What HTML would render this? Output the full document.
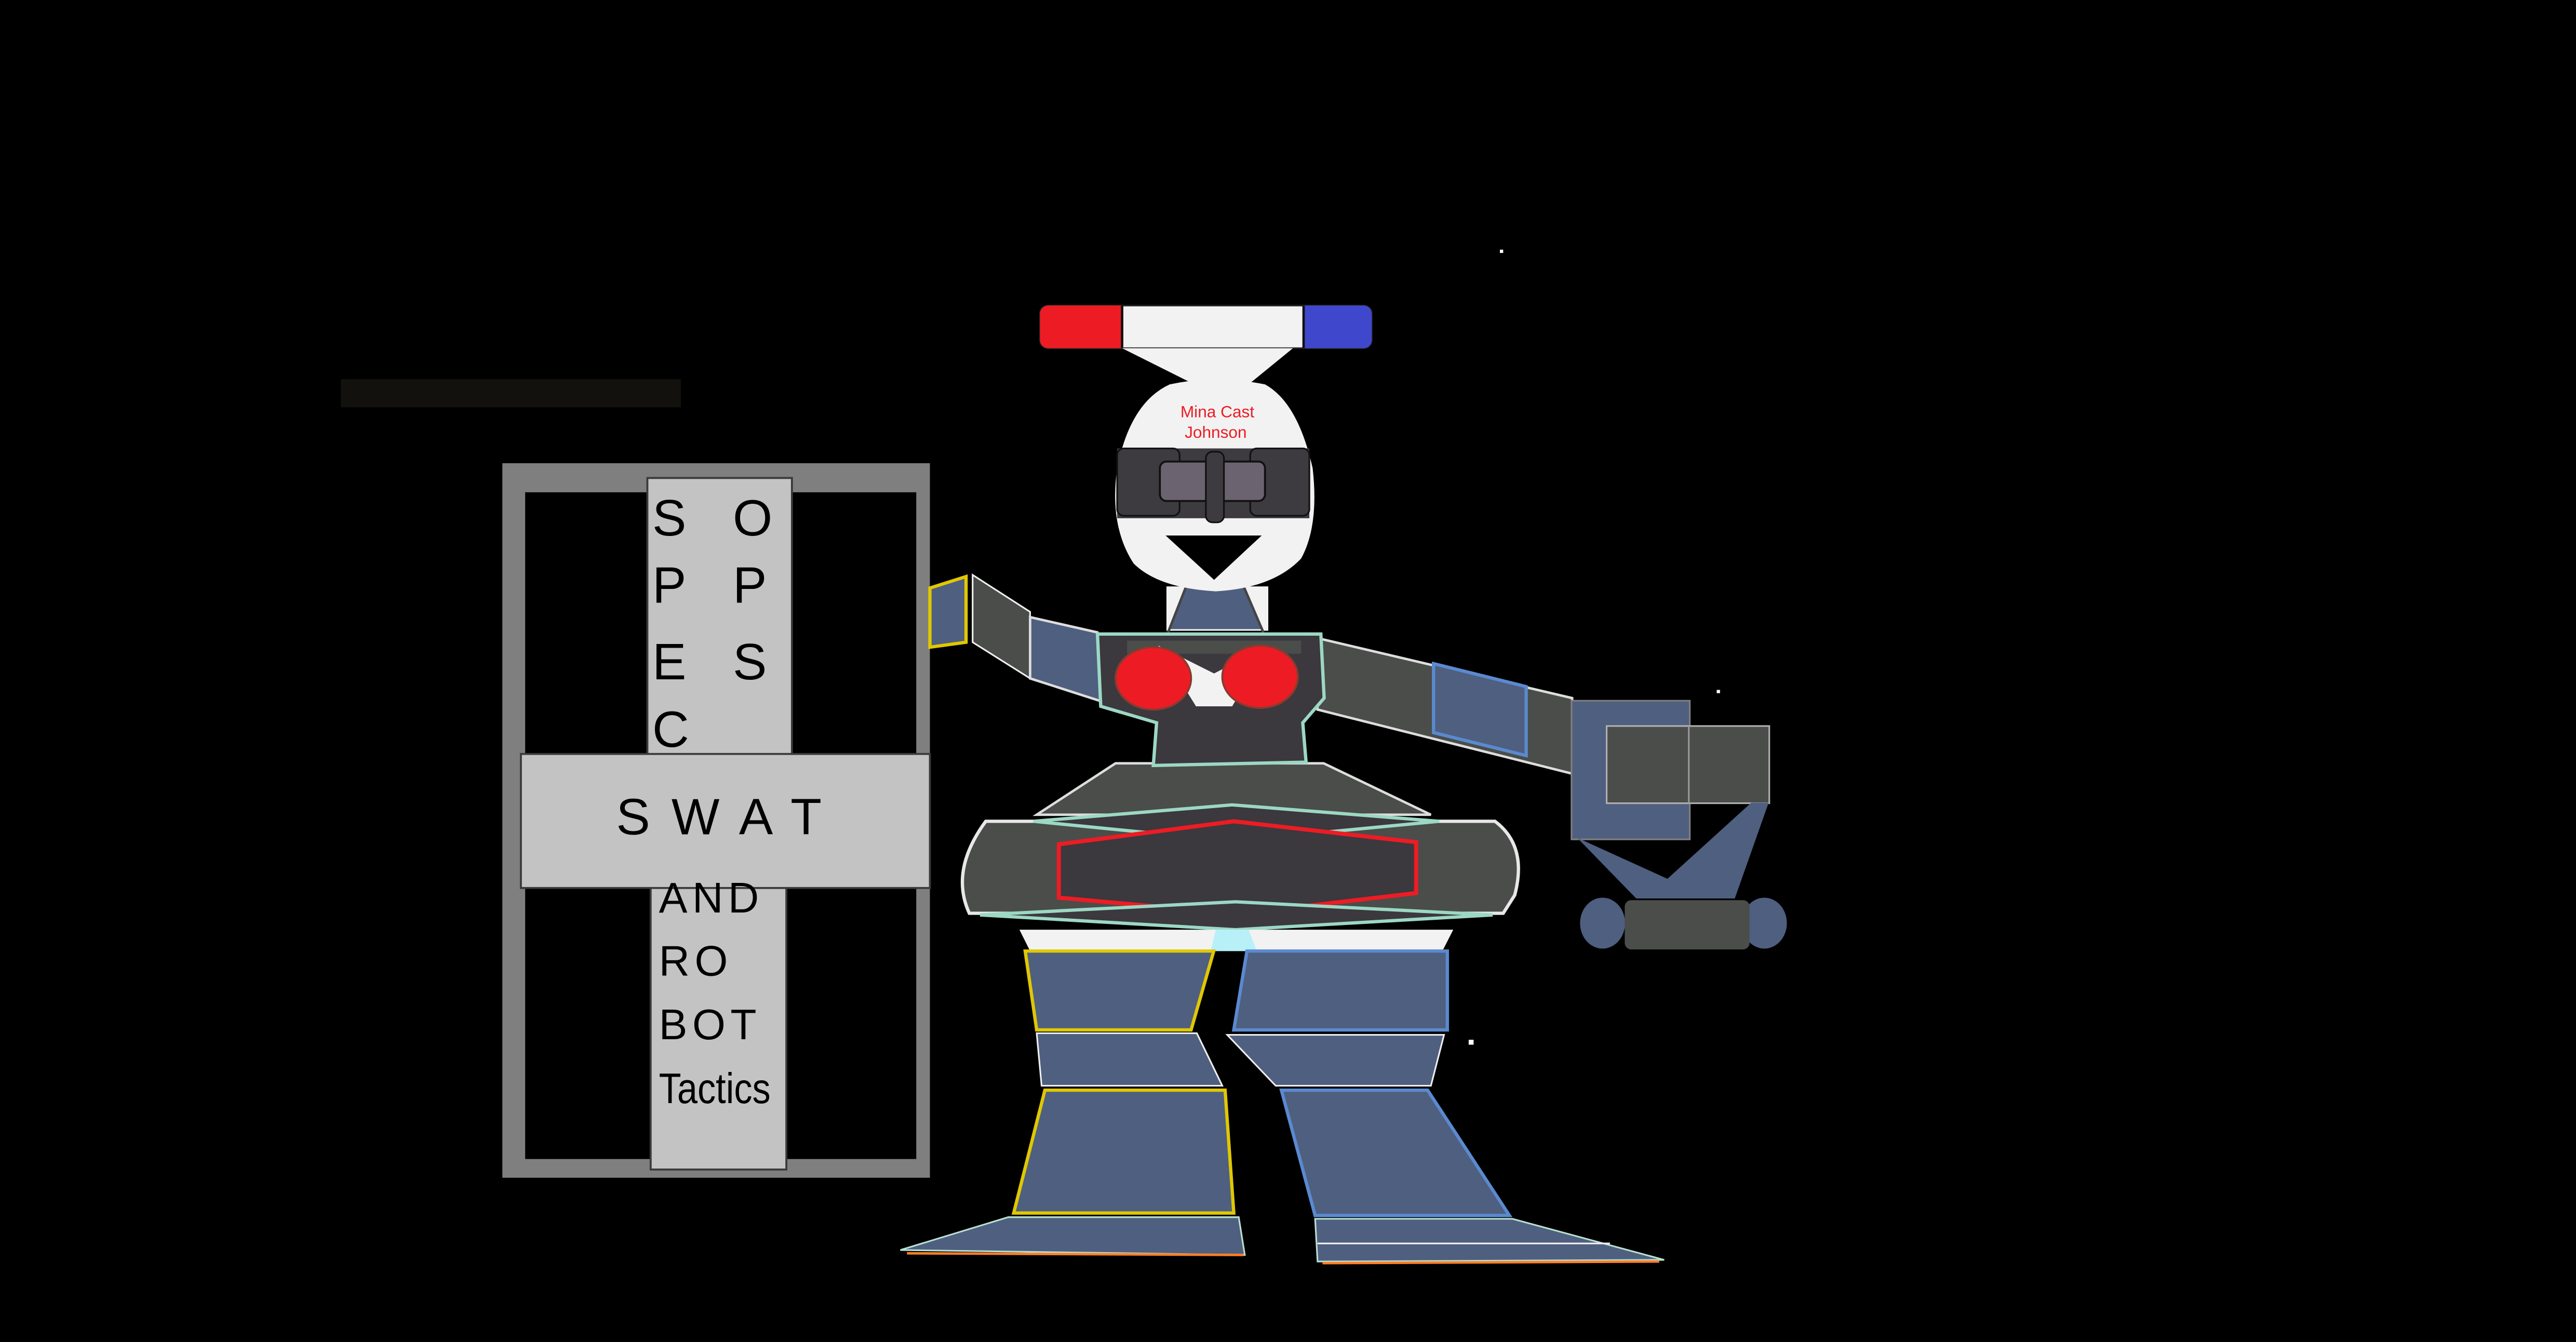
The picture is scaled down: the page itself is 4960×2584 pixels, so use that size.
<!DOCTYPE html>
<html><head><meta charset="utf-8"><style>
html,body{margin:0;padding:0;background:#000;}
svg{display:block;}
</style></head><body>
<svg width="4960" height="2584" viewBox="0 0 1568 817" xmlns="http://www.w3.org/2000/svg">
<rect x="0" y="0" width="1568" height="817" fill="#000"/>
<rect x="207.4" y="230.8" width="207" height="17.2" fill="#12110d"/>
<rect x="913" y="152" width="2" height="2" fill="#fff"/>
<rect x="1045" y="420" width="2" height="2" fill="#fff"/>
<rect x="894" y="633" width="3" height="3" fill="#fff"/>

<!-- sign -->
<rect x="305.7" y="282" width="260.3" height="435" fill="#7f7f7f"/>
<rect x="319.6" y="299.7" width="238.1" height="405.9" fill="#000"/>
<rect x="394" y="291" width="88" height="170" fill="#c3c3c3" stroke="#3a3a3a" stroke-width="1.2"/>
<rect x="396" y="540" width="82.6" height="172" fill="#c3c3c3" stroke="#3a3a3a" stroke-width="1.2"/>
<rect x="317" y="459" width="249" height="81.6" fill="#c3c3c3" stroke="#3a3a3a" stroke-width="1.2"/>
<g font-family="Liberation Sans, sans-serif" font-size="31" fill="#000">
<text x="397" y="326">S</text><text x="446" y="326">O</text>
<text x="397" y="367">P</text><text x="446" y="367">P</text>
<text x="397" y="413.5">E</text><text x="446" y="413.5">S</text>
<text x="397" y="454.6">C</text>
<text x="375" y="508" letter-spacing="13">SWAT</text>
<text x="401" y="555.5" font-size="26" letter-spacing="3">AND</text>
<text x="401" y="594" font-size="26" letter-spacing="3">RO</text>
<text x="401" y="632.6" font-size="26" letter-spacing="3">BOT</text>
<text x="401" y="671.5" font-size="26" textLength="68" lengthAdjust="spacingAndGlyphs">Tactics</text>
</g>

<!-- left arm -->
<polygon points="566,358 588,351 588,391 566,394" fill="#4f5f80" stroke="#e0c800" stroke-width="2"/>
<polygon points="592,350 627,372.5 627,413 592,391" fill="#4a4d4a" stroke="#eee" stroke-width="1"/>
<polygon points="627,375.7 668,385 686,432 627,413" fill="#4f5f80" stroke="#ddd" stroke-width="1.5"/>

<!-- right arm -->
<polygon points="800,388 957,425 957,471 802,432" fill="#4a4d4a" stroke="#ddd" stroke-width="1.5"/>
<polygon points="872.6,404 929,418 929,460 872.6,446" fill="#4f5f80" stroke="#5a8ad0" stroke-width="2"/>
<!-- hand -->
<rect x="956.6" y="426.6" width="72" height="84.4" fill="#4f5f80" stroke="#7f7f7f" stroke-width="1"/>
<rect x="978" y="442" width="99" height="47" fill="#4a4d4a" stroke="#b0b0b0" stroke-width="1"/>
<line x1="1028" y1="442" x2="1028" y2="489" stroke="#999" stroke-width="1"/>
<polygon points="960,510 1015,535 1066,488.7 1076.6,488.7 1056,547 996,547" fill="#4f5f80"/>
<ellipse cx="975.5" cy="562" rx="13.7" ry="15.5" fill="#4f5f80"/>
<ellipse cx="1074" cy="562" rx="13.7" ry="15.5" fill="#4f5f80"/>
<rect x="989" y="548" width="76" height="30" rx="4" fill="#4a4d4a"/>

<!-- light bar -->
<rect x="633" y="186" width="202" height="26" rx="5" fill="#f2f2f2" stroke="#222" stroke-width="1"/>
<path d="M638,186 H683 V212 H638 A5,5 0 0 1 633,207 V191 A5,5 0 0 1 638,186 Z" fill="#ed1c24"/>
<path d="M793.5,186 H830 A5,5 0 0 1 835,191 V207 A5,5 0 0 1 830,212 H793.5 Z" fill="#3f48cc"/>
<line x1="683" y1="186" x2="683" y2="212" stroke="#111" stroke-width="1.5"/>
<line x1="793.5" y1="186" x2="793.5" y2="212" stroke="#111" stroke-width="1.5"/>
<polygon points="683,212 787,212 760,234 727,234" fill="#f2f2f2"/>

<!-- neck -->
<polygon points="710,357 772,357 772,384 710,384" fill="#f2f2f2"/>
<polygon points="722,357 757,357 769,383 711,383" fill="#4f5f80"/>
<line x1="722" y1="357" x2="711" y2="385" stroke="#444" stroke-width="1.5"/>
<line x1="757" y1="357" x2="769" y2="385" stroke="#444" stroke-width="1.5"/>

<!-- head -->
<path d="M712,234 Q740,228 770,234 Q790,245 799,285 Q803,320 792,340 Q775,358 740,360 Q705,358 690,343 Q675,320 680,285 Q688,245 712,234 Z" fill="#f2f2f2"/>
<text x="741" y="254" font-family="Liberation Sans, sans-serif" font-size="10" fill="#ed1c24" text-anchor="middle">Mina  Cast</text>
<text x="740" y="266.5" font-family="Liberation Sans, sans-serif" font-size="10" fill="#ed1c24" text-anchor="middle">Johnson</text>
<rect x="680" y="273" width="117" height="42.5" fill="#3d3a40"/>
<rect x="680" y="273" width="38" height="41" rx="4" fill="none" stroke="#111" stroke-width="1"/>
<rect x="761" y="273" width="36" height="41" rx="4" fill="none" stroke="#111" stroke-width="1"/>
<rect x="706" y="281" width="64" height="24" rx="4" fill="#6b6370" stroke="#111" stroke-width="1.2"/>
<rect x="734" y="275" width="11" height="43" rx="4" fill="#3d3a40" stroke="#111" stroke-width="1"/>
<polygon points="709.5,326 768,326 739,353" fill="#000"/>

<!-- torso -->
<polygon points="679,464.7 805.7,464.7 871,496 631,496" fill="#4a4d4a" stroke="#ddd" stroke-width="1.5"/>
<path d="M668,386 L804,386 L806,425 L793,440 L795,464 L702,466 L704,440 L670,430 Z" fill="#3b383e" stroke="#9cd8c4" stroke-width="2"/>
<path d="M686,390 L792,390 L792,398 L686,398 Z" fill="#4a4d4a"/>
<polygon points="705,393 739,410 772,393 750,430 728,430" fill="#f2f2f2"/>
<ellipse cx="702" cy="413" rx="23" ry="19" fill="#ed1c24" stroke="#8a3a30" stroke-width="1.2"/>
<ellipse cx="767" cy="412" rx="23" ry="19" fill="#ed1c24" stroke="#8a3a30" stroke-width="1.2"/>

<!-- hips -->
<path d="M600,500 L910,500 Q930,515 922,545 L915,556 L590,556 Q578,530 600,500 Z" fill="#4a4d4a" stroke="#e8e8e8" stroke-width="2"/>
<polygon points="629,500 750,490 876,500 750,512" fill="#3b383e" stroke="#9cd8c4" stroke-width="2"/>
<polygon points="644.5,514 751,500 862,512.7 862,543.7 754,556.4 644.5,546.5" fill="#3b383e" stroke="#ed1c24" stroke-width="2.5"/>
<polygon points="596.5,557 752,549 908.6,557 752,566" fill="#3b383e" stroke="#9cd8c4" stroke-width="2"/>
<polygon points="620.5,566 884.6,566 878,579 627,579" fill="#f2f2f2"/>
<polygon points="740,566 760,566 765,579 737,579" fill="#b8f0f8"/>

<!-- legs -->
<polygon points="624,579 738.8,579 725,627 631,627" fill="#4f5f80" stroke="#e0c800" stroke-width="2"/>
<polygon points="631,629 728.5,629 744,661 634,661" fill="#4f5f80" stroke="#eee" stroke-width="1"/>
<polygon points="636,663.7 745.7,663.7 751,738.5 617,738.5" fill="#4f5f80" stroke="#e0c800" stroke-width="2"/>
<polygon points="613.7,741 754,741 757.7,764 548,761" fill="#4f5f80" stroke="#b8e0d0" stroke-width="1"/>
<line x1="552" y1="763" x2="757" y2="764" stroke="#ff7f27" stroke-width="1.5"/>
<polygon points="759,579 881,579 881,627 751,627" fill="#4f5f80" stroke="#5a8ad0" stroke-width="2"/>
<polygon points="747,630 879,630 871,661 776.5,661" fill="#4f5f80" stroke="#eee" stroke-width="1"/>
<polygon points="780,663.7 869,663.7 918.8,740 800.5,740" fill="#4f5f80" stroke="#5a8ad0" stroke-width="2"/>
<polygon points="800.5,742 920.6,742 1013,767 802,768" fill="#4f5f80" stroke="#b8e0d0" stroke-width="1"/>
<line x1="802" y1="757" x2="980" y2="757" stroke="#eee" stroke-width="1"/>
<line x1="805" y1="769" x2="1010" y2="768" stroke="#ff7f27" stroke-width="1.5"/>
</svg>
</body></html>
